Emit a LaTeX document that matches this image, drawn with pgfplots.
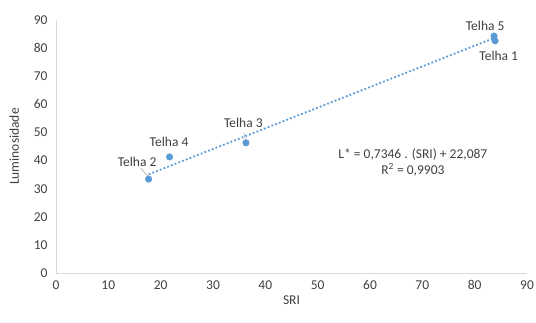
\documentclass[border=0pt]{standalone}
\usepackage{pgfplots}
\pgfplotsset{compat=1.18}
\usepackage{fontspec}
\setmainfont{Carlito}
\definecolor{ser}{HTML}{5B9BD5}
\definecolor{ax}{HTML}{D9D9D9}
\definecolor{txt}{HTML}{404040}
\begin{document}
\begin{tikzpicture}[x=1pt,y=1pt]
\useasboundingbox (-56,-50) rectangle (480,273);
\begin{axis}[
  at={(0,0)}, anchor=origin,
  scale only axis, width=471pt, height=253pt,
  xmin=0, xmax=90, ymin=0, ymax=90,
  xtick={0,10,...,90}, ytick={0,10,...,90},
  axis x line*=bottom, axis y line*=left,
  axis line style={ax, line width=0.8pt, -},
  tick style={draw=none},
  ticklabel style={font=\fontsize{13.5}{15}\selectfont, text=txt},
  xticklabel style={yshift=-4pt},
  yticklabel style={xshift=-5pt},
  /pgf/number format/assume math mode=true,
  xlabel={SRI}, ylabel={Luminosidade},
  label style={font=\fontsize{13.5}{16}\selectfont, text=txt},
  xlabel style={yshift=1pt},
  ylabel style={yshift=8pt},
  clip=false,
]
\addplot[ser, line width=1.8pt, dash pattern=on 1.8pt off 2.2pt] coordinates {(17.7,35.09) (83.9,83.72)};
\addplot[only marks, mark=*, mark size=3.3pt, ser] coordinates {
 (83.9,82.6) (17.7,33.4) (36.3,46.3) (21.7,41.3) (83.7,84.3)};
\draw[gray!80, line width=0.5pt] (axis cs:16.2,37.3) -- (axis cs:17.6,34.3);
\draw[gray!80, line width=0.5pt] (axis cs:35.9,49.8) -- (axis cs:36.2,47.5);
\begin{scope}[every node/.style={font=\fontsize{13.5}{16}\selectfont, text=txt}]
\node at (axis cs:15.5,39.6) {Telha 2};
\node at (axis cs:21.6,46.7) {Telha 4};
\node at (axis cs:35.8,53.4) {Telha 3};
\node at (axis cs:82.0,87.9) {Telha 5};
\node at (axis cs:84.6,77.3) {Telha 1};
\node[align=center] at (axis cs:68.2,39.3) {L* = 0,7346 . (SRI) + 22,087\\R\textsuperscript{2} = 0,9903};
\end{scope}
\end{axis}
\end{tikzpicture}
\end{document}
